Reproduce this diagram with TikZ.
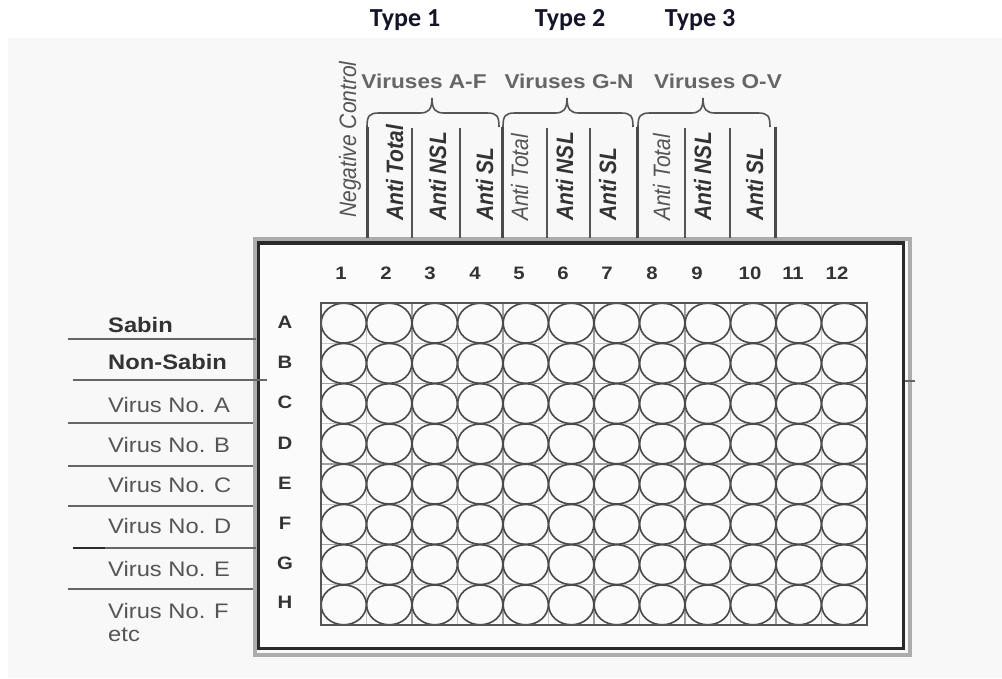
\documentclass[tikz,border=0pt]{standalone}
\usepackage{fontspec}
\setmainfont{Liberation Sans}
\newfontfamily\typefont{Carlito}
\definecolor{bgc}{HTML}{F8F8F8}
\definecolor{platec}{HTML}{FBFBFB}
\definecolor{darkc}{HTML}{2A2A2A}
\definecolor{midc}{HTML}{555555}
\definecolor{txtc}{HTML}{333333}
\definecolor{navyc}{HTML}{15152A}
\newcommand{\mybrace}[3]{%
  \draw[bracec] (#1,127) .. controls (#1,116) and ({#1+2},113) .. ({#1+12},113)
    -- ({#2-12},113) .. controls ({#2-4},113) and (#2,110) .. (#2,98)
    .. controls (#2,110) and ({#2+4},113) .. ({#2+12},113)
    -- ({#3-12},113) .. controls ({#3-2},113) and (#3,116) .. (#3,127);}
\begin{document}
\begin{tikzpicture}[x=1pt,y=-1pt,
  bracec/.style={draw=midc,line width=1.6},
  thickdiv/.style={draw=darkc!85,line width=3},
  thindiv/.style={draw=midc,line width=1.3},
  sidelne/.style={draw=midc!90,line width=1.5},
  gridlight/.style={draw=gray!45,line width=0.8},
  gridmid/.style={draw=gray!75,line width=1.2},
  gridedge/.style={draw=midc,line width=1.4},
  well/.style={draw=darkc!85,line width=1.6,fill=platec},
  rot/.style={xscale=1.13,rotate=90,anchor=base west,inner sep=0pt},
  antib/.style={rot,font=\fontsize{21}{21}\selectfont\bfseries\itshape,text=txtc},
  antil/.style={rot,font=\fontsize{21}{21}\selectfont\itshape,text=midc},
  virgrp/.style={xscale=1.13,font=\fontsize{20}{20}\selectfont\bfseries,text=midc!90},
  typelbl/.style={font=\typefont\fontsize{26}{26}\selectfont\bfseries,text=navyc},
  collbl/.style={xscale=1.13,font=\fontsize{18}{18}\selectfont\bfseries,text=txtc},
  sidebold/.style={xscale=1.13,anchor=west,inner sep=0pt,font=\fontsize{21}{21}\selectfont\bfseries,text=txtc},
  sidereg/.style={xscale=1.13,anchor=west,inner sep=0pt,font=\fontsize{21}{23}\selectfont,text=midc,align=left}
]
\useasboundingbox (0,0) rectangle (1002,678);
\fill[white] (0,0) rectangle (1002,678);
\fill[bgc] (8,38) rectangle (1002,678);

% plate frame
\fill[platec] (258,243) rectangle (904,648);
\draw[gray!65,line width=4] (254.5,238.5) rectangle (909.5,654.5);
\draw[darkc,line width=3.5] (258.5,243) rectangle (903.5,648.5);

% grid lines
\foreach \i in {1,...,11}{
  \pgfmathparse{int(mod(\i,2))}
  \ifnum\pgfmathresult=0
    \draw[gridmid] ({321+\i*45.5},303) -- ++(0,322);
  \else
    \draw[gridlight] ({321+\i*45.5},303) -- ++(0,322);
  \fi}
\foreach \j in {1,...,7}{
  \pgfmathparse{int(mod(\j,2))}
  \ifnum\pgfmathresult=0
    \draw[gridmid] (321,{303+\j*40.25}) -- ++(546,0);
  \else
    \draw[gridlight] (321,{303+\j*40.25}) -- ++(546,0);
  \fi}
% wells
\foreach \c in {1,...,12}{
  \foreach \r in {1,...,8}{
    \draw[well] ({321+(\c-0.5)*45.5},{303+(\r-0.5)*40.25}) ellipse (22.6 and 19.9);
  }}
\draw[gridedge] (321,303) rectangle (867,625);

% column numbers
\foreach \n/\x in {1/341,2/386,3/430,4/475,5/519,6/563,7/607,8/652,9/697,10/750,11/793,12/837}{
  \node[collbl] (col\n) at (\x,273) {\n};}
% row letters
\foreach \l/\y in {A/322,B/362,C/402,D/443,E/483,F/523,G/563,H/602}{
  \node[collbl] (row\l) at (285,\y) {\l};}

% side separator lines
\coordinate (s1a) at (68,339);  \coordinate (s1b) at (256,339);
\coordinate (s2a) at (73,380);  \coordinate (s2b) at (267,380);
\coordinate (s3a) at (68,423);  \coordinate (s3b) at (253,423);
\coordinate (s4a) at (68,466);  \coordinate (s4b) at (253,466);
\coordinate (s5a) at (68,506);  \coordinate (s5b) at (253,506);
\coordinate (s6a) at (73,548);  \coordinate (s6b) at (256,548);
\coordinate (s7a) at (68,589);  \coordinate (s7b) at (253,589);
\coordinate (r2a) at (905,381); \coordinate (r2b) at (915,381);
\foreach \k in {1,...,7}{\draw[sidelne] (s\k a) -- (s\k b);}
\draw[sidelne] (r2a) -- (r2b);
\draw[darkc,line width=1.8] (73,548) -- (105,548);

% side labels
\node[sidebold] (sabin) at (108,325) {Sabin};
\node[sidebold] (nonsabin) at (108,362) {Non-Sabin};
\node[sidereg] (va) at (108,405) {Virus No. A};
\node[sidereg] (vb) at (108,445) {Virus No. B};
\node[sidereg] (vc) at (108,485) {Virus No. C};
\node[sidereg] (vd) at (108,526) {Virus No. D};
\node[sidereg] (ve) at (108,569) {Virus No. E};
\node[sidereg,anchor=north west] (vf) at (108,603) {Virus No. F\\etc};

% header dividers
\foreach \x in {367,502,637,775}{\draw[thickdiv] (\x,127) -- (\x,238);}
\foreach \x in {412,460,547,590,685,730}{\draw[thindiv] (\x,128) -- (\x,238);}

% braces
\mybrace{367}{432}{499}
\mybrace{503}{567}{633}
\mybrace{638}{703}{770}

% group labels
\node[virgrp] (g1) at (424,81) {Viruses A-F};
\node[virgrp] (g2) at (569,81) {Viruses G-N};
\node[virgrp] (g3) at (718,81) {Viruses O-V};

% type labels
\node[typelbl] (t1) at (405,20) {Type 1};
\node[typelbl] (t2) at (570,20) {Type 2};
\node[typelbl] (t3) at (700,20) {Type 3};

% rotated labels
\node[antil] (neg) at (356,218) {Negative Control};
\node[antib] (a1) at (403,221) {Anti Total};
\node[antib] (n1) at (446,221) {Anti NSL};
\node[antib] (l1) at (493,221) {Anti SL};
\node[antil] (a2) at (528,221) {Anti Total};
\node[antib] (n2) at (573,221) {Anti NSL};
\node[antib] (l2) at (616,221) {Anti SL};
\node[antil] (a3) at (670,221) {Anti Total};
\node[antib] (n3) at (711,221) {Anti NSL};
\node[antib] (l3) at (763,221) {Anti SL};
\end{tikzpicture}
\end{document}
